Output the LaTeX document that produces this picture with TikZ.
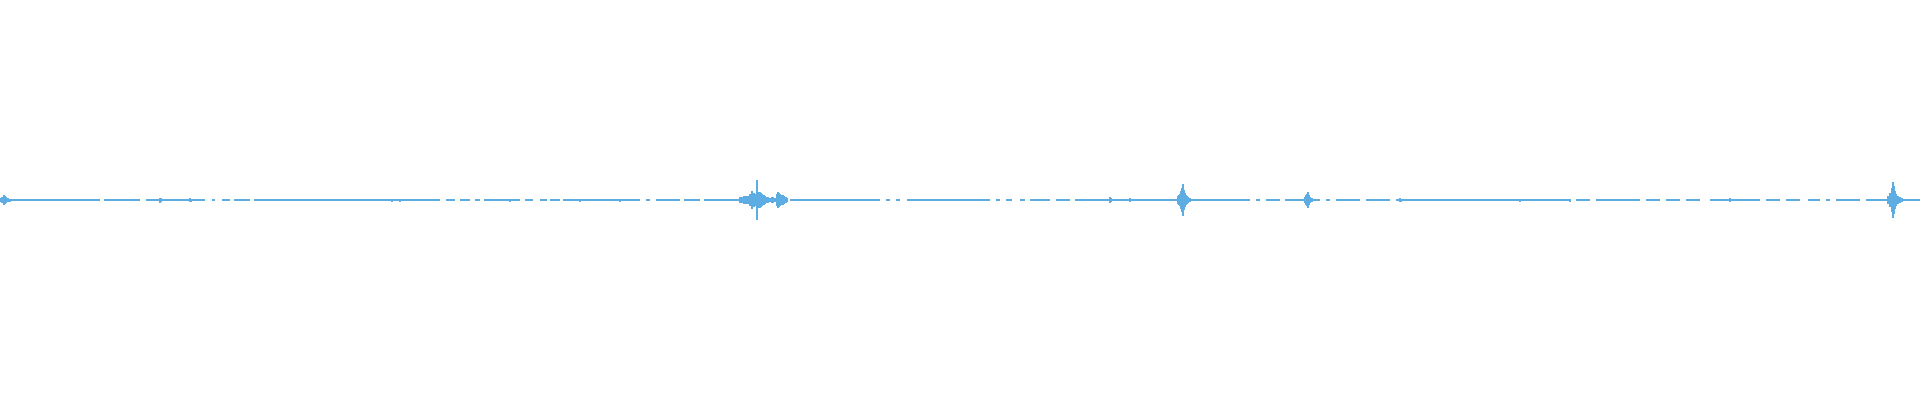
\documentclass[tikz,border=0pt]{standalone}
\definecolor{wave}{RGB}{93,173,226}
\begin{document}
\begin{tikzpicture}[x=0.01cm,y=-0.01cm,bar/.style={fill=wave,draw=none}]
\useasboundingbox (0,0) rectangle (1920,400);
% baseline with small gaps
\foreach \a/\b in {0/100,104/140,146/205,212/215,222/230,234/250,254/440,446/455,460/470,475/480,484/520,525/533,540/547,550/560,563/640,646/650,656/680,684/700,704/740,
790/880,886/890,896/900,907/990,996/1000,1006/1012,1020/1025,1030/1050,1056/1070,1075/1250,1256/1260,1266/1280,1285/1320,1326/1330,1336/1360,1366/1390,1396/1570,1576/1590,1596/1640,1646/1660,1666/1680,1686/1700,1710/1760,1766/1780,1786/1800,1808/1820,1826/1830,1836/1860,1866/1920}
  \fill[wave] (\a,199.3) rectangle (\b,200.7);
% bursts: x/halfheight
\foreach \x/\h in {0/2,2/3,4/5,5/4,6/3,8/2,10/1.5,160/2.5,161/2,190/2,191/1.5,392/1.5,400/1.5,510/1.5,580/1.5,620/1.5,1110/3,1111/2,1130/2,1520/1.5,1570/1.5,1730/2,
740/3,742/3,744/4,746/4,748/4,750/6,752/9,754/7,755/6,756/5,757/20,758/8,759/7,760/8,761/7,762/6,763/5,764/5,765/4,766/3,767/3,768/3,770/2,772/3,773/3,775/2,777/6,778/8,779/7,780/6,781/5,782/4,783/5,784/4,785/3,786/3,787/2,
1178/4,1179/5,1180/6,1181/9,1182/12,1183/16,1184/10,1185/7,1186/5,1187/4,1188/3,1190/2,
1305/3,1306/5,1307/6,1308/8,1309/5,1310/3,1312/2,
1400/2,1401/1.5,
1888/4,1890/7,1892/12,1893/18,1894/14,1895/9,1896/6,1898/4,1900/3,1902/2}
  \fill[wave] (\x-0.6,200-\h) rectangle (\x+0.6,200+\h);
\end{tikzpicture}
\end{document}
